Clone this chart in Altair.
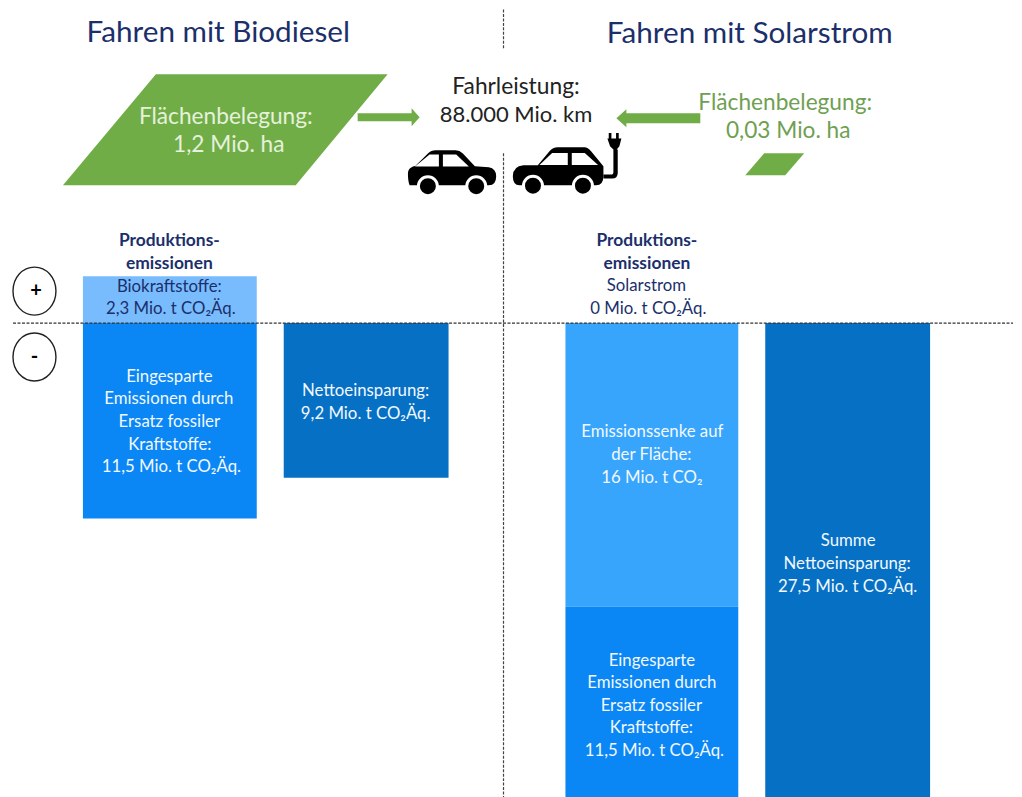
import altair as alt
import pandas as pd

FONT = "Lato"
PX = 17.0        # picture pixels per Mio. t on the value scale
ZERO = 322       # picture row of the zero line
W, H = 1006, 789


def yv(py):
    return (ZERO - py) / PX


# --- bars: Mio. t CO2-equivalent
bar_names = ["Biokraftstoffe", "Eingespart Bio", "Netto Bio", "Senke", "Eingespart Solar", "Summe Netto"]
bar_x0 = [83, 83, 284, 566, 566, 766]
bar_x1 = [257, 257, 449, 739, 739, 931]
bar_from = [0, 0, 0, 0, -16.7, 0]
bar_to = [2.76, -11.5, -9.1, -16.7, -28.2, -28.2]
bar_col = ["#78bcfd", "#0a87f5", "#0670c4", "#38a5fc", "#0a87f5", "#0670c4"]
bars = pd.DataFrame(dict(n=bar_names, x=bar_x0, x2=bar_x1, y=bar_from, y2=bar_to, c=bar_col))

x_s = alt.Scale(domain=[8, 8 + W], nice=False, zero=False)
y_s = alt.Scale(domain=[yv(8 + H), yv(8)], nice=False, zero=False)
X = alt.X("x:Q", scale=x_s, axis=None)
Y = alt.Y("y:Q", scale=y_s, axis=None)

bar_layer = alt.Chart(bars).mark_rect(clip=True).encode(
    x=X, x2="x2:Q", y=Y, y2="y2:Q", color=alt.Color("c:N", scale=None))

# --- parallelograms for the land use
para = pd.DataFrame(dict(
    g=["a", "a", "b", "b"],
    y=[yv(73), yv(184), yv(152), yv(174)],
    x=[156, 63, 765, 746],
    x2=[388, 296, 805, 786]))
para_layer = alt.Chart(para).mark_area(orient="horizontal", color="#70ad47", opacity=1).encode(
    y=Y, x=X, x2="x2:Q", detail="g:N")

GREEN = "#70ad47"
ARROW_R = "M0,0 L-8,-9 L-8,-4 L-62,-4 L-62,4 L-8,4 L-8,9 Z"
ARROW_L = "M0,0 L10,-9 L10,-5 L84,-5 L84,5 L10,5 L10,9 Z"


def symbol(path, x, y, size, color="black"):
    d = pd.DataFrame(dict(x=[x], y=[yv(y)]))
    return alt.Chart(d).mark_point(shape=path, size=size, filled=True, fill=color, stroke=None, opacity=1).encode(x=X, y=Y)


CAR_L = ("M25,338 C25,322 35,316 47,314 L85,277 Q95,267 108,267 L168,267 Q180,267 190,277 L226,315 L268,318 "
         "Q290,322 290,345 Q290,372 268,372 L30,372 Q25,360 25,338 Z "
         "M46,316 L118,316 L118,280 L90,280 Z M130,316 L208,316 L170,280 L130,280 Z")
CAR_R = ("M340,345 Q340,315 372,312 L415,312 L450,270 Q460,258 475,258 L555,258 Q565,258 575,270 L612,315 "
         "L612,345 Q612,372 590,372 L360,372 Q340,372 340,345 Z "
         "M420,311 L505,311 L505,275 L458,275 Z M517,311 L596,311 L556,275 L517,275 Z")
CABLE = ("M612,340 L635,340 Q642,340 642,332 L642,265 L655,265 L655,335 Q655,352 638,352 L612,352 Z "
         "M624,232 L666,232 L660,255 L652,265 L642,265 L632,255 Z "
         "M628,215 L636,215 L636,232 L628,232 Z M650,215 L658,215 L658,232 L650,232 Z")
Z = 4 / 9   # paths above are in 3x coordinates around (400, 60)

wheels = pd.DataFrame(dict(
    x=[428.3, 476.7, 533.5, 583.5],
    y=[yv(185), yv(185), yv(184.5), yv(184.5)]))
wheel_layer = alt.Chart(wheels).mark_point(
    shape="circle", size=361, filled=True, fill="black", stroke="white", strokeWidth=3, opacity=1).encode(x=X, y=Y)

# --- plus / minus circles (slightly taller than wide in the picture)
ELL = "M-21.5,0 C-21.5,-13.5 -12,-24 0,-24 C12,-24 21.5,-13.5 21.5,0 C21.5,13.5 12,24 0,24 C-12,24 -21.5,13.5 -21.5,0 Z"
circ = pd.DataFrame(dict(x=[34.5, 34.5], y=[yv(290), yv(356)]))
circ_layer = alt.Chart(circ).mark_point(shape=ELL, size=4, filled=False, stroke="#222222", strokeWidth=1.4, opacity=1).encode(x=X, y=Y)

# --- dashed lines
rule_h = alt.Chart(pd.DataFrame(dict(x=[13], x2=[8 + W], y=[0.0]))).mark_rule(
    color="#333333", strokeWidth=1.2, strokeDash=[3, 1.5]).encode(x=X, x2="x2:Q", y=Y)
rule_v = alt.Chart(pd.DataFrame(dict(x=[504, 504], y=[yv(8), yv(152)], y2=[yv(48), yv(8 + H)]))).mark_rule(
    color="#444444", strokeWidth=1.2, strokeDash=[3, 1.5]).encode(x=X, y=Y, y2="y2:Q")


def txt(items, size, color, weight="normal"):
    d = pd.DataFrame([dict(t=t, x=x, y=yv(y)) for t, x, y in items])
    return alt.Chart(d).mark_text(
        font=FONT, fontSize=size, color=color, fontWeight=weight, align="center", baseline="middle"
    ).encode(x=X, y=Y, text="t:N")


NAVY = "#1b2f6b"
title_items = [("Fahren mit Biodiesel", 218.5, 32), ("Fahren mit Solarstrom", 750.5, 33)]
fahr_items = [("Fahrleistung:", 516.5, 86)]
fahr_items2 = [("88.000 Mio. km", 516.5, 114)]
land_w = [("Flächenbelegung:", 226, 116), ("1,2 Mio. ha", 229, 144)]
land_g = [("Flächenbelegung:", 786, 102), ("0,03 Mio. ha", 789, 130)]
prod_items = [("Produktions-", 169.5, 240), ("emissionen", 169.5, 263), ("Produktions-", 647.5, 240), ("emissionen", 647.5, 263)]
blue_items = [("Biokraftstoffe:", 169.5, 286), ("2,3 Mio. t CO₂Äq.", 171, 308),
              ("Solarstrom", 647, 285), ("0 Mio. t CO₂Äq.", 649, 308)]
white_items = [
    ("Eingesparte", 169.5, 376), ("Emissionen durch", 169, 398), ("Ersatz fossiler", 169.5, 421),
    ("Kraftstoffe:", 170, 444), ("11,5 Mio. t CO₂Äq.", 171.5, 466),
    ("Nettoeinsparung:", 366, 390), ("9,2 Mio. t CO₂Äq.", 366, 413),
    ("Emissionssenke auf", 653, 431), ("der Fläche:", 652, 454), ("16 Mio. t CO₂", 652.5, 477),
    ("Eingesparte", 652.5, 660), ("Emissionen durch", 652.5, 682), ("Ersatz fossiler", 652, 705),
    ("Kraftstoffe:", 652, 727), ("11,5 Mio. t CO₂Äq.", 655, 750),
    ("Summe", 849, 540), ("Nettoeinsparung:", 848, 563), ("27,5 Mio. t CO₂Äq.", 848.5, 586),
]
sign_items = [("+", 36, 290), ("-", 34.5, 356)]

chart = alt.layer(
    para_layer,
    symbol(ARROW_R, 420, 116, 4, GREEN),
    symbol(ARROW_L, 617, 117, 4, GREEN),
    bar_layer,
    rule_h,
    rule_v,
    symbol(CAR_L, 400, 60, Z),
    symbol(CAR_R, 400, 60, Z),
    symbol(CABLE, 400, 60, Z),
    wheel_layer,
    circ_layer,
    txt(title_items, 29.7, NAVY),
    txt(fahr_items, 22.8, "#222222"),
    txt(fahr_items2, 22, "#222222"),
    txt(land_w, 22.7, "#e6f1dc"),
    txt(land_g, 22.7, "#6f9f52"),
    txt(prod_items, 17.4, NAVY, "bold"),
    txt(blue_items, 16.8, NAVY),
    txt(white_items, 16.8, "#f2f8fe"),
    txt(sign_items, 20, "black", "bold"),
).properties(width=W, height=H, padding=0, background="white").configure_view(stroke=None)

chart.save("out.html", embed_options={"renderer": "svg", "actions": False})
